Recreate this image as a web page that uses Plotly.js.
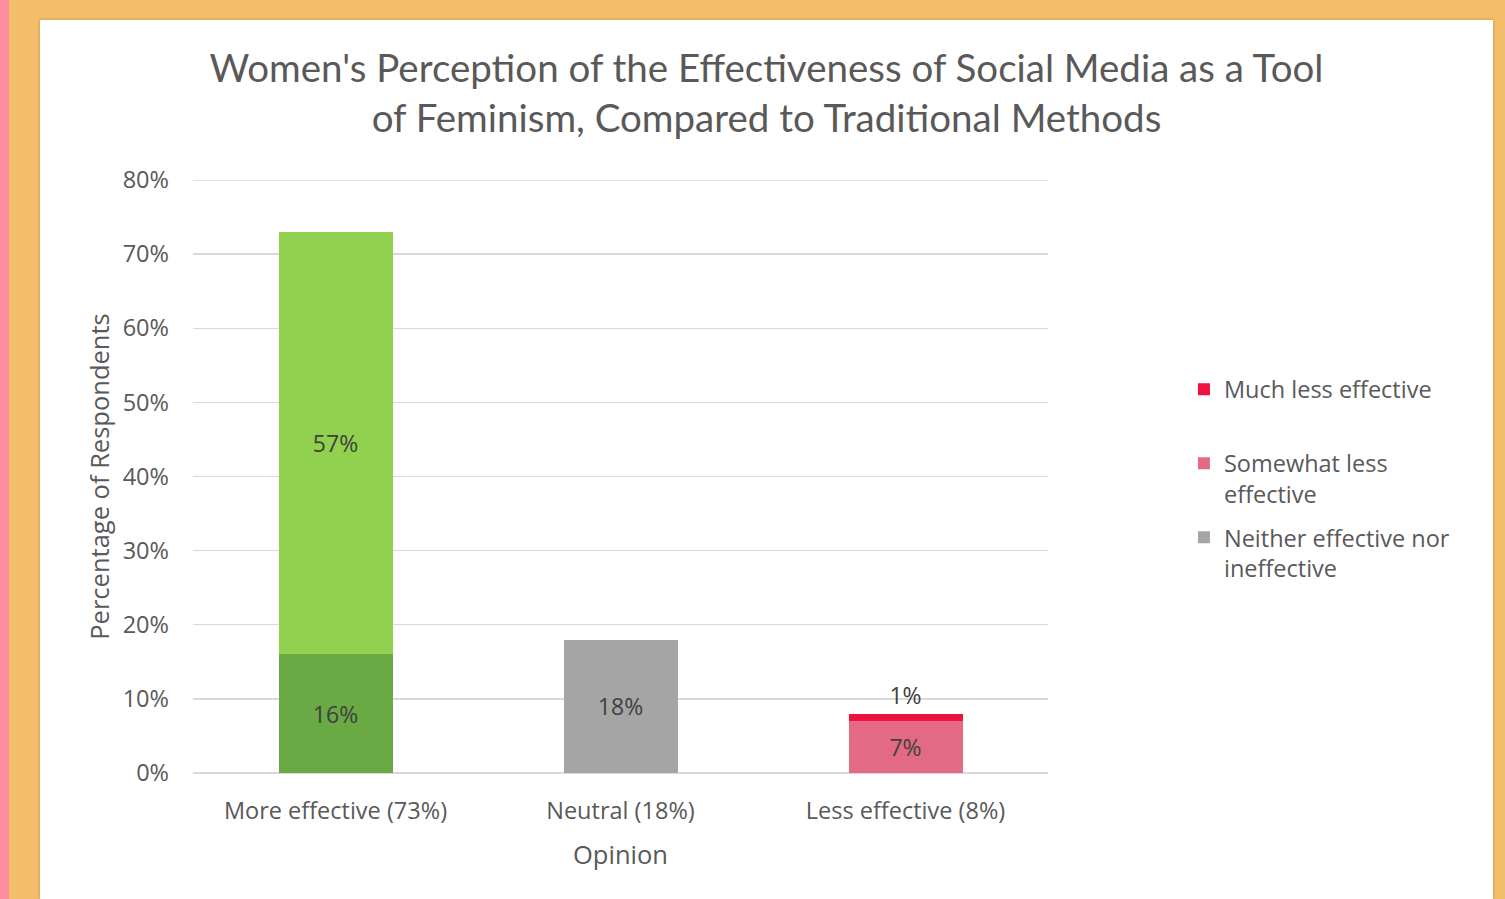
<!DOCTYPE html>
<html>
<head>
<meta charset="utf-8">
<script src="https://cdn.plot.ly/plotly-3.0.1.min.js"></script>
<style>
  html, body { margin:0; padding:0; width:1505px; height:899px; overflow:hidden; }
  body { background:#F3BD69; position:relative; }
  #strip { position:absolute; left:0; top:0; width:9px; height:899px; background:#FF8DA1; }
  #chart { position:absolute; left:40px; top:20px; width:1453px; height:879px; background:#fff;
           box-shadow: 0 0 3px rgba(0,0,0,0.25); }
</style>
</head>
<body>
<div id="strip"></div>
<div id="chart"></div>
<script>
const categories = ["More effective (73%)", "Neutral (18%)", "Less effective (8%)"];
const seriesNames = ["Much more effective", "Somewhat more effective", "Neither effective nor ineffective", "Somewhat less effective", "Much less effective"];
const seriesCategory = ["More effective (73%)", "More effective (73%)", "Neutral (18%)", "Less effective (8%)", "Less effective (8%)"];
const seriesValues = [16, 57, 18, 7, 1];
const seriesColors = ["#6AAA45", "#92D050", "#A5A5A5", "#E26A84", "#EE1240"];
const legendLabels = ["", "", "Neither effective nor<br>ineffective", "Somewhat less<br>effective", "Much less effective<br>&nbsp;"];
const legendRanks = [5, 4, 3, 2, 1];
const showInLegend = [false, false, true, true, true];
const yTicks = [0, 10, 20, 30, 40, 50, 60, 70, 80];
const yMax = 80;

const font = "'Open Sans', sans-serif";
const traces = seriesValues.map((v, i) => ({
  type: "bar",
  name: legendLabels[i] || seriesNames[i],
  legendgroup: "g" + i,
  legendrank: legendRanks[i],
  x: [seriesCategory[i]],
  y: [v],
  marker: { color: seriesColors[i] },
  width: 0.4,
  texttemplate: "%{y}%",
  textposition: i === 4 ? "outside" : "inside",
  insidetextanchor: "middle",
  textfont: { family: font, size: 23, color: "#404040" },
  cliponaxis: false,
  showlegend: showInLegend[i],
  hoverinfo: "x+y+name"
}));

const layout = {
  width: 1453, height: 879,
  paper_bgcolor: "#ffffff", plot_bgcolor: "#ffffff",
  margin: { l: 153, r: 445, t: 160, b: 126 },
  barmode: "stack",
  font: { family: font, color: "#595959" },
  title: {
    text: "Women's Perception of the Effectiveness of Social Media as a Tool<br>of Feminism, Compared to Traditional Methods",
    font: { family: "Lato, sans-serif", size: 38.5, color: "#595959" },
    x: 0.5, xref: "container", xanchor: "center",
    y: 0.93, yref: "container", yanchor: "top"
  },
  xaxis: {
    categoryorder: "array", categoryarray: categories,
    showgrid: false, showline: false, zeroline: false,
    tickfont: { family: font, size: 23.5, color: "#595959" },
    ticklabelstandoff: 21,
    title: { text: "Opinion", font: { family: font, size: 25.5, color: "#595959" }, standoff: 21 }
  },
  yaxis: {
    range: [0, yMax], tickvals: yTicks, ticktext: yTicks.map(t => t + "%"),
    showgrid: true, gridcolor: "#D9D9D9", gridwidth: 1.3,
    zeroline: true, zerolinecolor: "#D9D9D9", zerolinewidth: 1.3,
    showline: false,
    tickfont: { family: font, size: 23.5, color: "#595959" },
    ticklabelstandoff: 23,
    title: { text: "Percentage of Respondents", font: { family: font, size: 25.5, color: "#595959" }, standoff: 5 }
  },
  shapes: [{
    type: "line", xref: "paper", yref: "y", x0: 0, x1: 1, y0: yMax, y1: yMax,
    line: { color: "#D9D9D9", width: 1.3 }, layer: "below"
  }],
  legend: {
    x: 1.159, xanchor: "left",
    y: 0.684, yanchor: "top",
    traceorder: "grouped",
    tracegroupgap: 10,
    valign: "top",
    font: { family: font, size: 23.5, color: "#595959" },
    itemwidth: 30,
    bgcolor: "rgba(0,0,0,0)"
  },
  showlegend: true
};

Plotly.newPlot("chart", traces, layout, { displayModeBar: false, staticPlot: true });
</script>
</body>
</html>
